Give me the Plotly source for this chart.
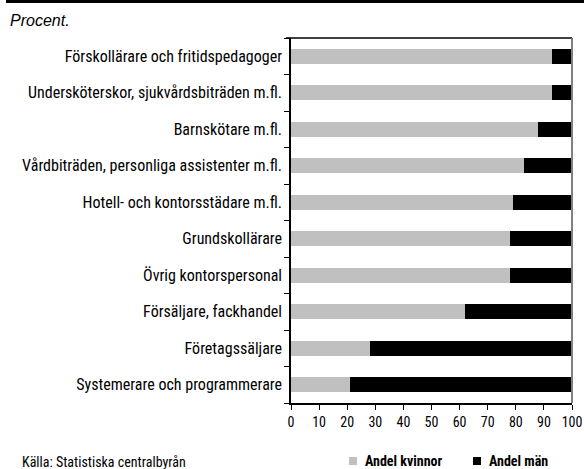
import plotly.graph_objects as go

categories = [
    "Förskollärare och fritidspedagoger",
    "Undersköterskor, sjukvårdsbiträden m.fl.",
    "Barnskötare m.fl.",
    "Vårdbiträden, personliga assistenter m.fl.",
    "Hotell- och kontorsstädare m.fl.",
    "Grundskollärare",
    "Övrig kontorspersonal",
    "Försäljare, fackhandel",
    "Företagssäljare",
    "Systemerare och programmerare",
]
women = [93, 93, 88, 83, 79, 78, 78, 62, 28, 21]
men = [100 - w for w in women]
x_ticks = list(range(0, 101, 10))
series_names = ["Andel kvinnor", "Andel män"]
series_colors = ["#c0c0c0", "#000000"]

COND = "Roboto Condensed, Liberation Sans Narrow, sans-serif"

fig = go.Figure()
for name, vals, col in zip(series_names, [women, men], series_colors):
    fig.add_trace(go.Bar(
        y=categories, x=vals, orientation="h", name=name,
        marker=dict(color=col, line=dict(width=0)),
        showlegend=False,
    ))

# manual legend below the plot (paper coords of plot area: x 291-572, y 38-403 px)
legend_shapes = []
legend_notes = []
for i, (name, col) in enumerate(zip(series_names, series_colors)):
    x0 = 0.2064 + i * 0.4413
    legend_shapes.append(dict(type="rect", xref="paper", yref="paper",
                              x0=x0, x1=x0 + 0.0285, y0=-0.1699, y1=-0.1479,
                              fillcolor=col, line=dict(width=0)))
    legend_notes.append(dict(text=f"<b>{name}</b>", xref="paper", yref="paper",
                             x=x0 + 0.05, y=-0.1589, xanchor="left", yanchor="middle",
                             showarrow=False,
                             font=dict(family=COND, size=14, color="#000000")))

fig.update_layout(
    barmode="stack",
    bargap=0.59,
    width=584,
    height=469,
    margin=dict(l=291, r=12, t=38, b=66),
    paper_bgcolor="white",
    plot_bgcolor="white",
    font=dict(family=COND, size=14, color="#000000"),
    showlegend=False,
    xaxis=dict(
        range=[0, 100],
        tickvals=x_ticks,
        ticks="outside",
        ticklen=5,
        tickcolor="#000000",
        showline=True,
        linecolor="#000000",
        linewidth=1.5,
        showgrid=False,
        zeroline=False,
        tickfont=dict(size=14),
        automargin=False,
        fixedrange=True,
    ),
    yaxis=dict(
        categoryorder="array",
        categoryarray=categories[::-1],
        ticks="outside",
        tickson="boundaries",
        ticklen=5,
        tickcolor="#000000",
        showline=True,
        linecolor="#000000",
        linewidth=1.5,
        showgrid=False,
        tickfont=dict(size=16),
        ticklabelstandoff=4,
        automargin=False,
        fixedrange=True,
    ),
    shapes=[
        dict(type="line", xref="paper", yref="paper", x0=-0.018, x1=1, y0=1, y1=1,
             line=dict(color="#000000", width=1.5)),
        dict(type="line", xref="paper", yref="paper", x0=1, x1=1, y0=0, y1=1,
             line=dict(color="#808080", width=2)),
        # thick rule along the top edge of the page
        dict(type="rect", xref="paper", yref="paper", x0=-1.0142, x1=1.0427,
             y0=1.0959, y1=1.1041, fillcolor="#000000", line=dict(width=0)),
    ] + legend_shapes,
    annotations=[
        dict(text="<i>Procent.</i>", xref="paper", yref="paper", x=-1.0071, y=1.0466,
             xanchor="left", yanchor="middle", showarrow=False,
             font=dict(family="Liberation Sans, Arial, sans-serif", size=16)),
        dict(text="Källa: Statistiska centralbyrån", xref="paper", yref="paper",
             x=-0.9644, y=-0.1616, xanchor="left", yanchor="middle", showarrow=False,
             font=dict(family=COND, size=14)),
    ] + legend_notes,
)

fig.write_html("out.html", config={"displayModeBar": False},
               post_script="document.body.style.margin='0';")
